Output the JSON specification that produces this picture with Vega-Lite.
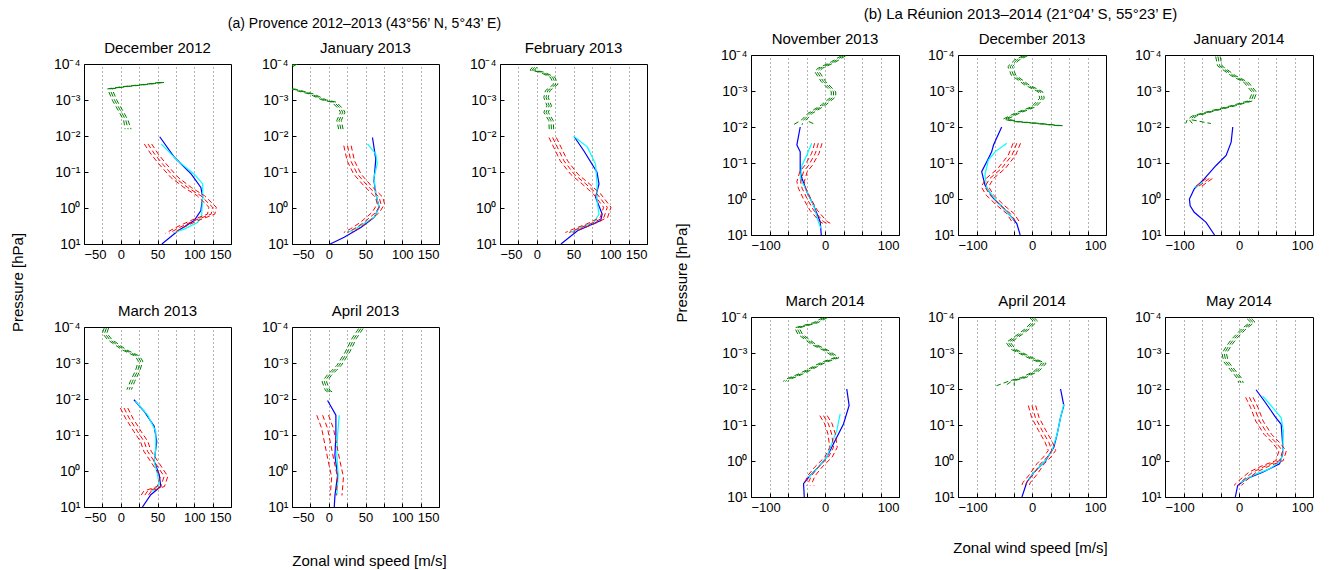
{
"$schema":"https://vega.github.io/schema/vega-lite/v6.json",
"background":"white",
"padding":{"left":10,"top":6,"right":5,"bottom":0},
"config":{
 "font":"Liberation Sans",
 "view":{"stroke":"#000","strokeWidth":1},
 "axis":{"labelFontSize":13,"labelColor":"#000","labelFont":"Liberation Sans","domain":false,"tickColor":"#000","tickSize":-4,"labelPadding":8,"gridColor":"#000","gridDash":[1,3],"gridOpacity":0.6},
 "axisY":{"grid":false,"labelFontSize":14},
 "axisX":{"grid":true},
 "title":{"fontSize":15,"fontWeight":"normal","color":"#000","font":"Liberation Sans","offset":1}
},
"datasets":{
"a1":[
{"s":"g","p":3.24e-4,"u":56,"lo":53,"hi":59},{"s":"g","p":3.63e-4,"u":37,"lo":34,"hi":40},{"s":"g","p":4.27e-4,"u":5,"lo":2,"hi":8},{"s":"g","p":4.9e-4,"u":-15,"lo":-18,"hi":-12},{"s":"g","p":1.05e-3,"u":-8,"lo":-11,"hi":-5},{"s":"g","p":2.19e-3,"u":1,"lo":-2,"hi":4},{"s":"g","p":3.72e-3,"u":7,"lo":4,"hi":10},{"s":"g","p":6.46e-3,"u":10,"lo":6,"hi":14},
{"s":"r","p":0.0166,"u":37,"lo":32,"hi":42},{"s":"r","p":0.0316,"u":46,"lo":41,"hi":51},{"s":"r","p":0.0603,"u":57,"lo":52,"hi":62},{"s":"r","p":0.141,"u":73,"lo":68,"hi":78},{"s":"r","p":0.269,"u":91,"lo":86,"hi":96},{"s":"r","p":0.457,"u":109,"lo":104,"hi":114},{"s":"r","p":0.955,"u":125,"lo":120,"hi":130},{"s":"r","p":1.48,"u":123,"lo":118,"hi":128},{"s":"r","p":2.24,"u":100,"lo":95,"hi":105},{"s":"r","p":3.47,"u":80,"lo":75,"hi":85},{"s":"r","p":5.01,"u":66,"lo":61,"hi":71},
{"s":"b","p":0.0105,"u":53},{"s":"b","p":0.0389,"u":73},{"s":"b","p":0.115,"u":96},{"s":"b","p":0.269,"u":109},{"s":"b","p":0.501,"u":111.5},{"s":"b","p":1.17,"u":109},{"s":"b","p":2.24,"u":100},{"s":"b","p":4.27,"u":78},{"s":"b","p":10,"u":56},
{"s":"c","p":0.0166,"u":55},{"s":"c","p":0.049,"u":77.6},{"s":"c","p":0.115,"u":100},{"s":"c","p":0.214,"u":111.5},{"s":"c","p":0.501,"u":111.5},{"s":"c","p":1.62,"u":110},{"s":"c","p":2.51,"u":105},{"s":"c","p":3.8,"u":87},{"s":"c","p":4.79,"u":73}
],
"a2":[
{"s":"g","p":1.0e-4,"u":-46,"lo":-49,"hi":-43},{"s":"g","p":2.0e-4,"u":-70,"lo":-73,"hi":-67},{"s":"g","p":4.9e-4,"u":-50,"lo":-53,"hi":-47},{"s":"g","p":6.76e-4,"u":-24,"lo":-27,"hi":-21},{"s":"g","p":1.0e-3,"u":-6,"lo":-9,"hi":-3},{"s":"g","p":1.15e-3,"u":7.5,"lo":4.5,"hi":10.5},{"s":"g","p":1.78e-3,"u":16.5,"lo":13.5,"hi":19.5},{"s":"g","p":2.19e-3,"u":19,"lo":16,"hi":22},{"s":"g","p":3.72e-3,"u":14,"lo":11,"hi":17},{"s":"g","p":6.46e-3,"u":16.5,"lo":13.5,"hi":19.5},
{"s":"r","p":0.0186,"u":25.5,"lo":20.5,"hi":30.5},{"s":"r","p":0.049,"u":30,"lo":25,"hi":35},{"s":"r","p":0.115,"u":39,"lo":34,"hi":44},{"s":"r","p":0.24,"u":52.7,"lo":47.7,"hi":57.7},{"s":"r","p":0.501,"u":68.5,"lo":63.5,"hi":73.5},{"s":"r","p":0.776,"u":71,"lo":66,"hi":76},{"s":"r","p":1.32,"u":64,"lo":59,"hi":69},{"s":"r","p":2.51,"u":48,"lo":43,"hi":53},{"s":"r","p":3.8,"u":34.6,"lo":29.6,"hi":39.6},{"s":"r","p":4.79,"u":25.5,"lo":20.5,"hi":30.5},
{"s":"b","p":0.011,"u":59.5},{"s":"b","p":0.0437,"u":64},{"s":"b","p":0.174,"u":61.5},{"s":"b","p":0.407,"u":64},{"s":"b","p":0.955,"u":68.5},{"s":"b","p":1.82,"u":61.8},{"s":"b","p":3.47,"u":43.7},{"s":"b","p":6.46,"u":21},{"s":"b","p":10,"u":2},
{"s":"c","p":0.0166,"u":52.7},{"s":"c","p":0.0316,"u":64},{"s":"c","p":0.0603,"u":66},{"s":"c","p":0.141,"u":61.5},{"s":"c","p":0.407,"u":64},{"s":"c","p":0.955,"u":68.5},{"s":"c","p":1.82,"u":61.8},{"s":"c","p":3.47,"u":39},{"s":"c","p":4.79,"u":25.5}
],
"a3":[
{"s":"g","p":1.23e-4,"u":-3,"lo":-6,"hi":0},{"s":"g","p":1.48e-4,"u":-6,"lo":-9,"hi":-3},{"s":"g","p":1.7e-4,"u":7.6,"lo":4.6,"hi":10.6},{"s":"g","p":2.34e-4,"u":21.6,"lo":18.6,"hi":24.6},{"s":"g","p":3.63e-4,"u":26,"lo":23,"hi":29},{"s":"g","p":5.5e-4,"u":14.9,"lo":11.9,"hi":17.9},{"s":"g","p":8.51e-4,"u":12.6,"lo":9.6,"hi":15.6},{"s":"g","p":1.45e-3,"u":17,"lo":14,"hi":20},{"s":"g","p":2.19e-3,"u":12.6,"lo":9.6,"hi":15.6},{"s":"g","p":3.72e-3,"u":19.4,"lo":16.4,"hi":22.4},{"s":"g","p":6.46e-3,"u":20,"lo":17,"hi":23},
{"s":"r","p":0.011,"u":21.6,"lo":16.6,"hi":26.6},{"s":"r","p":0.0204,"u":28,"lo":23,"hi":33},{"s":"r","p":0.049,"u":37,"lo":32,"hi":42},{"s":"r","p":0.115,"u":51,"lo":46,"hi":56},{"s":"r","p":0.214,"u":66.7,"lo":61.7,"hi":71.7},{"s":"r","p":0.407,"u":82,"lo":77,"hi":87},{"s":"r","p":0.955,"u":96,"lo":91,"hi":101},{"s":"r","p":1.82,"u":91.4,"lo":86.4,"hi":96.4},{"s":"r","p":2.75,"u":73.4,"lo":68.4,"hi":78.4},{"s":"r","p":3.8,"u":55.4,"lo":50.4,"hi":60.4},{"s":"r","p":4.79,"u":44,"lo":39,"hi":49},
{"s":"b","p":0.0105,"u":51},{"s":"b","p":0.0257,"u":64},{"s":"b","p":0.102,"u":82},{"s":"b","p":0.214,"u":84.7},{"s":"b","p":0.501,"u":80},{"s":"b","p":1.48,"u":89},{"s":"b","p":2.24,"u":87},{"s":"b","p":4.27,"u":55.4},{"s":"b","p":10,"u":33},
{"s":"c","p":0.01,"u":50},{"s":"c","p":0.0204,"u":69},{"s":"c","p":0.0603,"u":80},{"s":"c","p":0.214,"u":82},{"s":"c","p":0.631,"u":82},{"s":"c","p":1.48,"u":84.7},{"s":"c","p":2.51,"u":78},{"s":"c","p":3.8,"u":55.4},{"s":"c","p":4.79,"u":46}
],
"a4":[
{"s":"g","p":1.07e-4,"u":-19.5,"lo":-22.5,"hi":-16.5},{"s":"g","p":1.48e-4,"u":-22,"lo":-25,"hi":-19},{"s":"g","p":2.24e-4,"u":-15,"lo":-18,"hi":-12},{"s":"g","p":4.27e-4,"u":4.5,"lo":1.5,"hi":7.5},{"s":"g","p":6.46e-4,"u":22.7,"lo":19.7,"hi":25.7},{"s":"g","p":8.91e-4,"u":27,"lo":24,"hi":30},{"s":"g","p":1.7e-3,"u":22.7,"lo":19.7,"hi":25.7},{"s":"g","p":3.24e-3,"u":16,"lo":13,"hi":19},{"s":"g","p":5.5e-3,"u":11.4,"lo":8.4,"hi":14.4},
{"s":"r","p":0.0178,"u":4.5,"lo":-0.5,"hi":9.5},{"s":"r","p":0.0339,"u":11.4,"lo":6.4,"hi":16.4},{"s":"r","p":0.0794,"u":22.7,"lo":17.7,"hi":27.7},{"s":"r","p":0.151,"u":31.8,"lo":26.8,"hi":36.8},{"s":"r","p":0.282,"u":36.4,"lo":31.4,"hi":41.4},{"s":"r","p":0.537,"u":45.5,"lo":40.5,"hi":50.5},{"s":"r","p":1.41,"u":59,"lo":54,"hi":64},{"s":"r","p":2.69,"u":54.5,"lo":49.5,"hi":59.5},{"s":"r","p":3.63,"u":36.4,"lo":31.4,"hi":41.4},{"s":"r","p":5.01,"u":31.8,"lo":26.8,"hi":36.8},
{"s":"b","p":0.0105,"u":18},{"s":"b","p":0.0219,"u":31.8},{"s":"b","p":0.0575,"u":45.5},{"s":"b","p":0.151,"u":49},{"s":"b","p":0.537,"u":45.5},{"s":"b","p":1.26,"u":52.3},{"s":"b","p":2.69,"u":54.5},{"s":"b","p":4.57,"u":40.9},{"s":"b","p":10,"u":29.5},
{"s":"c","p":0.0115,"u":20},{"s":"c","p":0.0275,"u":36.4},{"s":"c","p":0.0794,"u":47.7},{"s":"c","p":0.229,"u":47.7},{"s":"c","p":0.537,"u":45.5},{"s":"c","p":1.26,"u":50},{"s":"c","p":2.4,"u":52.3},{"s":"c","p":3.63,"u":43}
],
"a5":[
{"s":"g","p":1.1e-4,"u":43.7,"lo":40.7,"hi":46.7},{"s":"g","p":2.09e-4,"u":34.6,"lo":31.6,"hi":37.6},{"s":"g","p":4.9e-4,"u":25.6,"lo":22.6,"hi":28.6},{"s":"g","p":1.15e-3,"u":14.3,"lo":11.3,"hi":17.3},{"s":"g","p":2.19e-3,"u":0.7,"lo":-2.3,"hi":3.7},{"s":"g","p":3.31e-3,"u":-6,"lo":-9,"hi":-3},{"s":"g","p":5.75e-3,"u":-1.6,"lo":-4.6,"hi":1.4},{"s":"g","p":7.08e-3,"u":5,"lo":2,"hi":8},
{"s":"r","p":0.0282,"u":-8.3,"lo":-16.3,"hi":-0.3},{"s":"r","p":0.0661,"u":-1.6,"lo":-9.6,"hi":6.4},{"s":"r","p":0.195,"u":3,"lo":-5,"hi":11},{"s":"r","p":0.562,"u":7.5,"lo":-0.5,"hi":15.5},{"s":"r","p":1.48,"u":12,"lo":4,"hi":20},{"s":"r","p":4.79,"u":10,"lo":2,"hi":18},
{"s":"b","p":0.011,"u":-1.6},{"s":"b","p":0.0282,"u":9.7},{"s":"b","p":0.102,"u":9.7},{"s":"b","p":0.372,"u":8.4},{"s":"b","p":1.32,"u":12},{"s":"b","p":4.79,"u":8.4},{"s":"b","p":10,"u":7.5},
{"s":"c","p":0.0282,"u":14.3},{"s":"c","p":0.102,"u":12},{"s":"c","p":0.372,"u":11},{"s":"c","p":1.32,"u":12.9},{"s":"c","p":4.79,"u":11}
],
"b1":[
{"s":"g","p":1.05e-4,"u":25,"lo":22,"hi":28},{"s":"g","p":1.55e-4,"u":11.5,"lo":8.5,"hi":14.5},{"s":"g","p":2.34e-4,"u":-6.5,"lo":-9.5,"hi":-3.5},{"s":"g","p":2.88e-4,"u":-11,"lo":-14,"hi":-8},{"s":"g","p":5.5e-4,"u":-2,"lo":-5,"hi":1},{"s":"g","p":1.05e-3,"u":11.5,"lo":8.5,"hi":14.5},{"s":"g","p":1.45e-3,"u":11.5,"lo":8.5,"hi":14.5},{"s":"g","p":2.45e-3,"u":-2,"lo":-5,"hi":1},{"s":"g","p":4.17e-3,"u":-20,"lo":-23,"hi":-17},{"s":"g","p":6.46e-3,"u":-29,"lo":-32,"hi":-26},{"s":"g","p":8.71e-3,"u":-31,"lo":-43,"hi":-12},
{"s":"r","p":0.0282,"u":-9,"lo":-14,"hi":-4},{"s":"r","p":0.0537,"u":-13,"lo":-18,"hi":-8},{"s":"r","p":0.115,"u":-22,"lo":-27,"hi":-17},{"s":"r","p":0.174,"u":-29,"lo":-34,"hi":-24},{"s":"r","p":0.331,"u":-33,"lo":-38,"hi":-28},{"s":"r","p":0.501,"u":-31,"lo":-36,"hi":-26},{"s":"r","p":0.955,"u":-24.5,"lo":-29.5,"hi":-19.5},{"s":"r","p":2.04,"u":-15.5,"lo":-20.5,"hi":-10.5},{"s":"r","p":4.27,"u":-2,"lo":-7,"hi":3},{"s":"r","p":5.01,"u":4.7,"lo":-0.3,"hi":9.7},
{"s":"b","p":0.01,"u":-33.5},{"s":"b","p":0.0316,"u":-38},{"s":"b","p":0.049,"u":-33.5},{"s":"b","p":0.174,"u":-33.5},{"s":"b","p":0.269,"u":-31},{"s":"b","p":0.631,"u":-24.5},{"s":"b","p":1.48,"u":-15.5},{"s":"b","p":4.27,"u":-6.5},{"s":"b","p":10,"u":-5},
{"s":"c","p":0.0282,"u":-18},{"s":"c","p":0.0603,"u":-24.5},{"s":"c","p":0.115,"u":-31},{"s":"c","p":0.269,"u":-33.5},{"s":"c","p":0.501,"u":-26.5},{"s":"c","p":1.48,"u":-15.5},{"s":"c","p":4.27,"u":-9},{"s":"c","p":6.46,"u":-5.6}
],
"b2":[
{"s":"g","p":1.05e-4,"u":-9,"lo":-12,"hi":-6},{"s":"g","p":1.38e-4,"u":-20.5,"lo":-23.5,"hi":-17.5},{"s":"g","p":2.09e-4,"u":-29.5,"lo":-32.5,"hi":-26.5},{"s":"g","p":3.63e-4,"u":-25,"lo":-28,"hi":-22},{"s":"g","p":6.76e-4,"u":-7,"lo":-10,"hi":-4},{"s":"g","p":1.05e-3,"u":11.4,"lo":8.4,"hi":14.4},{"s":"g","p":1.58e-3,"u":13.6,"lo":10.6,"hi":16.6},{"s":"g","p":2.75e-3,"u":2.3,"lo":-0.7,"hi":5.3},{"s":"g","p":4.17e-3,"u":-20.5,"lo":-23.5,"hi":-17.5},{"s":"g","p":6.03e-3,"u":-36,"lo":-39,"hi":-33},{"s":"g","p":7.08e-3,"u":-20.5,"lo":-23.5,"hi":-17.5},{"s":"g","p":7.94e-3,"u":7,"lo":4,"hi":10},{"s":"g","p":9.33e-3,"u":41,"lo":38,"hi":44},
{"s":"r","p":0.0282,"u":-20.5,"lo":-25.5,"hi":-15.5},{"s":"r","p":0.0603,"u":-27,"lo":-32,"hi":-22},{"s":"r","p":0.141,"u":-41,"lo":-46,"hi":-36},{"s":"r","p":0.269,"u":-57,"lo":-62,"hi":-52},{"s":"r","p":0.457,"u":-63.6,"lo":-68.6,"hi":-58.6},{"s":"r","p":0.776,"u":-57,"lo":-62,"hi":-52},{"s":"r","p":1.48,"u":-43,"lo":-48,"hi":-38},{"s":"r","p":2.51,"u":-29.5,"lo":-34.5,"hi":-24.5},{"s":"r","p":4.79,"u":-20.5,"lo":-25.5,"hi":-15.5},
{"s":"b","p":0.01,"u":-41},{"s":"b","p":0.0316,"u":-52},{"s":"b","p":0.049,"u":-54.5},{"s":"b","p":0.0912,"u":-61},{"s":"b","p":0.174,"u":-68},{"s":"b","p":0.407,"u":-63.6},{"s":"b","p":0.955,"u":-52},{"s":"b","p":2.24,"u":-34},{"s":"b","p":4.79,"u":-20.5},{"s":"b","p":10,"u":-16},
{"s":"c","p":0.0282,"u":-34},{"s":"c","p":0.049,"u":-50},{"s":"c","p":0.0832,"u":-59},{"s":"c","p":0.214,"u":-63.6},{"s":"c","p":0.501,"u":-61},{"s":"c","p":1.17,"u":-47.7},{"s":"c","p":2.24,"u":-34},{"s":"c","p":3.8,"u":-25}
],
"b3":[
{"s":"g","p":1.1e-4,"u":-28.5,"lo":-31.5,"hi":-25.5},{"s":"g","p":2.0e-4,"u":-26,"lo":-29,"hi":-23},{"s":"g","p":3.72e-4,"u":-8,"lo":-11,"hi":-5},{"s":"g","p":5.75e-4,"u":9.7,"lo":6.7,"hi":12.7},{"s":"g","p":1.1e-3,"u":21,"lo":18,"hi":24},{"s":"g","p":1.86e-3,"u":16.5,"lo":13.5,"hi":19.5},{"s":"g","p":2.57e-3,"u":-8,"lo":-11,"hi":-5},{"s":"g","p":3.55e-3,"u":-35,"lo":-38,"hi":-32},{"s":"g","p":4.9e-3,"u":-60,"lo":-63,"hi":-57},{"s":"g","p":6.31e-3,"u":-67,"lo":-70,"hi":-64},{"s":"g","p":8.0e-3,"u":-63,"lo":-72,"hi":-38},
{"s":"r","p":0.269,"u":-40,"lo":-44,"hi":-36},{"s":"r","p":0.468,"u":-56,"lo":-60,"hi":-52},
{"s":"b","p":0.01,"u":-8.4},{"s":"b","p":0.0263,"u":-10.6},{"s":"b","p":0.0617,"u":-17.4},{"s":"b","p":0.117,"u":-31},{"s":"b","p":0.275,"u":-47},{"s":"b","p":0.525,"u":-60.5},{"s":"b","p":1.0,"u":-67},{"s":"b","p":1.55,"u":-66},{"s":"b","p":2.34,"u":-60.5},{"s":"b","p":4.47,"u":-44.5},{"s":"b","p":10,"u":-33},
{"s":"c","p":0.339,"u":-49},{"s":"c","p":0.468,"u":-60}
],
"b4":[
{"s":"g","p":1.05e-4,"u":0,"lo":-3,"hi":3},{"s":"g","p":1.45e-4,"u":-13,"lo":-16,"hi":-10},{"s":"g","p":2.0e-4,"u":-38,"lo":-41,"hi":-35},{"s":"g","p":3.02e-4,"u":-33.5,"lo":-36.5,"hi":-30.5},{"s":"g","p":5.75e-4,"u":-15.5,"lo":-18.5,"hi":-12.5},{"s":"g","p":8.71e-4,"u":2.5,"lo":-0.5,"hi":5.5},{"s":"g","p":1.35e-3,"u":16,"lo":13,"hi":19},{"s":"g","p":1.82e-3,"u":-2,"lo":-5,"hi":1},{"s":"g","p":2.82e-3,"u":-20,"lo":-23,"hi":-17},{"s":"g","p":3.89e-3,"u":-33.5,"lo":-36.5,"hi":-30.5},{"s":"g","p":5.25e-3,"u":-49,"lo":-52,"hi":-46},{"s":"g","p":6.17e-3,"u":-53.5,"lo":-56.5,"hi":-50.5},
{"s":"r","p":0.055,"u":-2,"lo":-7,"hi":3},{"s":"r","p":0.0933,"u":4.7,"lo":-0.3,"hi":9.7},{"s":"r","p":0.178,"u":9,"lo":4,"hi":14},{"s":"r","p":0.417,"u":11.5,"lo":6.5,"hi":16.5},{"s":"r","p":0.776,"u":4.7,"lo":-0.3,"hi":9.7},{"s":"r","p":1.48,"u":-9,"lo":-14,"hi":-4},{"s":"r","p":2.51,"u":-18,"lo":-23,"hi":-13},{"s":"r","p":3.8,"u":-22,"lo":-27,"hi":-17},{"s":"r","p":4.79,"u":-20,"lo":-25,"hi":-15},
{"s":"b","p":0.01,"u":29.4},{"s":"b","p":0.0288,"u":32.6},{"s":"b","p":0.0933,"u":25},{"s":"b","p":0.331,"u":11.5},{"s":"b","p":0.776,"u":2.5},{"s":"b","p":1.48,"u":-9},{"s":"b","p":2.51,"u":-20},{"s":"b","p":4.27,"u":-29},{"s":"b","p":10,"u":-28},
{"s":"c","p":0.049,"u":20.5},{"s":"c","p":0.141,"u":16},{"s":"c","p":0.331,"u":9},{"s":"c","p":0.776,"u":2.5},{"s":"c","p":1.66,"u":-11},{"s":"c","p":2.82,"u":-22}
],
"b5":[
{"s":"g","p":1.05e-4,"u":0,"lo":-3,"hi":3},{"s":"g","p":1.29e-4,"u":4.5,"lo":1.5,"hi":7.5},{"s":"g","p":2.19e-4,"u":-7,"lo":-10,"hi":-4},{"s":"g","p":3.02e-4,"u":-16,"lo":-19,"hi":-13},{"s":"g","p":5.13e-4,"u":-32,"lo":-35,"hi":-29},{"s":"g","p":7.94e-4,"u":-25,"lo":-28,"hi":-22},{"s":"g","p":1.35e-3,"u":-2.3,"lo":-5.3,"hi":0.7},{"s":"g","p":1.95e-3,"u":16,"lo":13,"hi":19},{"s":"g","p":3.09e-3,"u":7,"lo":4,"hi":10},{"s":"g","p":4.79e-3,"u":-11,"lo":-14,"hi":-8},{"s":"g","p":5.89e-3,"u":-27,"lo":-30,"hi":-24},{"s":"g","p":8.13e-3,"u":-36,"lo":-48,"hi":-24},
{"s":"r","p":0.0288,"u":0,"lo":-5,"hi":5},{"s":"r","p":0.0617,"u":4.5,"lo":-0.5,"hi":9.5},{"s":"r","p":0.141,"u":13.6,"lo":8.6,"hi":18.6},{"s":"r","p":0.302,"u":22.7,"lo":17.7,"hi":27.7},{"s":"r","p":0.513,"u":27,"lo":22,"hi":32},{"s":"r","p":0.776,"u":20.5,"lo":15.5,"hi":25.5},{"s":"r","p":1.2,"u":11.4,"lo":6.4,"hi":16.4},{"s":"r","p":2.29,"u":2.3,"lo":-2.7,"hi":7.3},{"s":"r","p":3.89,"u":-7,"lo":-12,"hi":-2},{"s":"r","p":4.79,"u":-9,"lo":-14,"hi":-4},
{"s":"b","p":0.01,"u":38.6},{"s":"b","p":0.0288,"u":43},{"s":"b","p":0.0617,"u":38.6},{"s":"b","p":0.178,"u":34},{"s":"b","p":0.417,"u":29.5},{"s":"b","p":1.0,"u":18},{"s":"b","p":2.09,"u":2.3},{"s":"b","p":3.89,"u":-7},{"s":"b","p":10,"u":-13.6},
{"s":"c","p":0.0263,"u":43},{"s":"c","p":0.0617,"u":38.6},{"s":"c","p":0.178,"u":34},{"s":"c","p":0.513,"u":27},{"s":"c","p":1.1,"u":16},{"s":"c","p":2.09,"u":2.3},{"s":"c","p":3.47,"u":-4.5}
],
"b6":[
{"s":"g","p":1.12e-4,"u":14,"lo":11,"hi":17},{"s":"g","p":1.38e-4,"u":18.5,"lo":15.5,"hi":21.5},{"s":"g","p":2.09e-4,"u":7,"lo":4,"hi":10},{"s":"g","p":3.98e-4,"u":-6.3,"lo":-9.3,"hi":-3.3},{"s":"g","p":6.03e-4,"u":-13,"lo":-16,"hi":-10},{"s":"g","p":1.02e-3,"u":-20,"lo":-23,"hi":-17},{"s":"g","p":1.74e-3,"u":-17.6,"lo":-20.6,"hi":-14.6},{"s":"g","p":2.95e-3,"u":-8.6,"lo":-11.6,"hi":-5.6},{"s":"g","p":5.01e-3,"u":0.5,"lo":-2.5,"hi":3.5},{"s":"g","p":6.76e-3,"u":2.7,"lo":-0.3,"hi":5.7},
{"s":"r","p":0.017,"u":14,"lo":9,"hi":19},{"s":"r","p":0.0331,"u":20.8,"lo":15.8,"hi":25.8},{"s":"r","p":0.0776,"u":27.6,"lo":22.6,"hi":32.6},{"s":"r","p":0.182,"u":39,"lo":34,"hi":44},{"s":"r","p":0.309,"u":50,"lo":45,"hi":55},{"s":"r","p":0.525,"u":59,"lo":54,"hi":64},{"s":"r","p":0.977,"u":54.8,"lo":49.8,"hi":59.8},{"s":"r","p":1.35,"u":36.6,"lo":31.6,"hi":41.6},{"s":"r","p":2.04,"u":18.5,"lo":13.5,"hi":23.5},{"s":"r","p":3.47,"u":5,"lo":0,"hi":10},{"s":"r","p":4.79,"u":-1.8,"lo":-6.8,"hi":3.2},
{"s":"b","p":0.0105,"u":23},{"s":"b","p":0.0219,"u":34.4},{"s":"b","p":0.0631,"u":50},{"s":"b","p":0.0955,"u":57},{"s":"b","p":0.339,"u":59},{"s":"b","p":0.646,"u":59},{"s":"b","p":1.2,"u":54.8},{"s":"b","p":2.04,"u":32},{"s":"b","p":3.16,"u":9.5},{"s":"b","p":4.79,"u":-1.8},{"s":"b","p":10,"u":-5},
{"s":"c","p":0.0158,"u":32},{"s":"c","p":0.0331,"u":45.7},{"s":"c","p":0.0631,"u":57},{"s":"c","p":0.148,"u":60},{"s":"c","p":0.525,"u":59},{"s":"c","p":0.977,"u":57},{"s":"c","p":1.66,"u":41},{"s":"c","p":2.51,"u":18.5},{"s":"c","p":3.89,"u":2.7}
]
},
"hconcat":[
{"spacing":-43,"vconcat":[
{"width":1,"height":1,"data":{"values":[{"v":0}]},"mark":{"type":"point","opacity":0},"view":{"stroke":null}},
{"title":{"text":"(a) Provence 2012–2013 (43°56’ N, 5°43’ E)","fontSize":14,"offset":10,"anchor":"middle","dx":35},
 "vconcat":[{
  "title":{"text":"Zonal wind speed [m/s]","orient":"bottom","fontSize":15,"offset":29,"anchor":"middle","dx":40},
  "vconcat":[{
   "title":{"text":"Pressure [hPa]","orient":"left","fontSize":15,"offset":27,"anchor":"middle"},
   "spacing":41,
   "vconcat":[
    {"spacing":61,"bounds":"flush","hconcat":[
     {"width":147,"height":180,"title":"December 2012","data":{"name":"a1"},
      "encoding":{"y":{"field":"p","type":"quantitative","scale":{"type":"log","domain":[0.0001,10],"reverse":true},"axis":{"values":[0.0001,0.001,0.01,0.1,1,10],"labelExpr":"datum.value<0.0005?'10⁻⁴':datum.value<0.005?'10⁻³':datum.value<0.05?'10⁻²':datum.value<0.5?'10⁻¹':datum.value<5?'10⁰':'10¹'","title":null}},
       "x":{"field":"u","type":"quantitative","scale":{"domain":[-50,150],"nice":false,"zero":false},"axis":{"values":[-50,-25,0,25,50,75,100,125,150],"labelExpr":"datum.value%50==0?datum.label:''","title":null}},
       "color":{"field":"s","type":"nominal","scale":{"domain":["g","r","b","c"],"range":["#008000","#ff0000","#0000ff","#00ffff"]},"legend":null},
       "order":{"field":"p","type":"quantitative"}},
      "layer":[
       {"transform":[{"filter":"datum.s=='b'||datum.s=='c'"}],"mark":{"type":"line","clip":true,"strokeWidth":1.2}},
       {"transform":[{"filter":"datum.s=='g'||datum.s=='r'"}],"mark":{"type":"line","clip":true,"strokeWidth":1,"strokeDash":[5,3]}},
       {"transform":[{"filter":"datum.s=='g'||datum.s=='r'"}],"mark":{"type":"line","clip":true,"strokeWidth":1,"strokeDash":[5,3]},"encoding":{"x":{"field":"lo","type":"quantitative","scale":{"domain":[-50,150],"nice":false,"zero":false},"axis":{"values":[-50,-25,0,25,50,75,100,125,150],"labelExpr":"datum.value%50==0?datum.label:''","title":null}}}},
       {"transform":[{"filter":"datum.s=='g'||datum.s=='r'"}],"mark":{"type":"line","clip":true,"strokeWidth":1,"strokeDash":[5,3]},"encoding":{"x":{"field":"hi","type":"quantitative","scale":{"domain":[-50,150],"nice":false,"zero":false},"axis":{"values":[-50,-25,0,25,50,75,100,125,150],"labelExpr":"datum.value%50==0?datum.label:''","title":null}}}}
      ]},
     {"width":147,"height":180,"title":"January 2013","data":{"name":"a2"},
      "encoding":{"y":{"field":"p","type":"quantitative","scale":{"type":"log","domain":[0.0001,10],"reverse":true},"axis":{"values":[0.0001,0.001,0.01,0.1,1,10],"labelExpr":"datum.value<0.0005?'10⁻⁴':datum.value<0.005?'10⁻³':datum.value<0.05?'10⁻²':datum.value<0.5?'10⁻¹':datum.value<5?'10⁰':'10¹'","title":null}},
       "x":{"field":"u","type":"quantitative","scale":{"domain":[-50,150],"nice":false,"zero":false},"axis":{"values":[-50,-25,0,25,50,75,100,125,150],"labelExpr":"datum.value%50==0?datum.label:''","title":null}},
       "color":{"field":"s","type":"nominal","scale":{"domain":["g","r","b","c"],"range":["#008000","#ff0000","#0000ff","#00ffff"]},"legend":null},
       "order":{"field":"p","type":"quantitative"}},
      "layer":[
       {"transform":[{"filter":"datum.s=='b'||datum.s=='c'"}],"mark":{"type":"line","clip":true,"strokeWidth":1.2}},
       {"transform":[{"filter":"datum.s=='g'||datum.s=='r'"}],"mark":{"type":"line","clip":true,"strokeWidth":1,"strokeDash":[5,3]}},
       {"transform":[{"filter":"datum.s=='g'||datum.s=='r'"}],"mark":{"type":"line","clip":true,"strokeWidth":1,"strokeDash":[5,3]},"encoding":{"x":{"field":"lo","type":"quantitative","scale":{"domain":[-50,150],"nice":false,"zero":false},"axis":{"values":[-50,-25,0,25,50,75,100,125,150],"labelExpr":"datum.value%50==0?datum.label:''","title":null}}}},
       {"transform":[{"filter":"datum.s=='g'||datum.s=='r'"}],"mark":{"type":"line","clip":true,"strokeWidth":1,"strokeDash":[5,3]},"encoding":{"x":{"field":"hi","type":"quantitative","scale":{"domain":[-50,150],"nice":false,"zero":false},"axis":{"values":[-50,-25,0,25,50,75,100,125,150],"labelExpr":"datum.value%50==0?datum.label:''","title":null}}}}
      ]},
     {"width":147,"height":180,"title":"February 2013","data":{"name":"a3"},
      "encoding":{"y":{"field":"p","type":"quantitative","scale":{"type":"log","domain":[0.0001,10],"reverse":true},"axis":{"values":[0.0001,0.001,0.01,0.1,1,10],"labelExpr":"datum.value<0.0005?'10⁻⁴':datum.value<0.005?'10⁻³':datum.value<0.05?'10⁻²':datum.value<0.5?'10⁻¹':datum.value<5?'10⁰':'10¹'","title":null}},
       "x":{"field":"u","type":"quantitative","scale":{"domain":[-50,150],"nice":false,"zero":false},"axis":{"values":[-50,-25,0,25,50,75,100,125,150],"labelExpr":"datum.value%50==0?datum.label:''","title":null}},
       "color":{"field":"s","type":"nominal","scale":{"domain":["g","r","b","c"],"range":["#008000","#ff0000","#0000ff","#00ffff"]},"legend":null},
       "order":{"field":"p","type":"quantitative"}},
      "layer":[
       {"transform":[{"filter":"datum.s=='b'||datum.s=='c'"}],"mark":{"type":"line","clip":true,"strokeWidth":1.2}},
       {"transform":[{"filter":"datum.s=='g'||datum.s=='r'"}],"mark":{"type":"line","clip":true,"strokeWidth":1,"strokeDash":[5,3]}},
       {"transform":[{"filter":"datum.s=='g'||datum.s=='r'"}],"mark":{"type":"line","clip":true,"strokeWidth":1,"strokeDash":[5,3]},"encoding":{"x":{"field":"lo","type":"quantitative","scale":{"domain":[-50,150],"nice":false,"zero":false},"axis":{"values":[-50,-25,0,25,50,75,100,125,150],"labelExpr":"datum.value%50==0?datum.label:''","title":null}}}},
       {"transform":[{"filter":"datum.s=='g'||datum.s=='r'"}],"mark":{"type":"line","clip":true,"strokeWidth":1,"strokeDash":[5,3]},"encoding":{"x":{"field":"hi","type":"quantitative","scale":{"domain":[-50,150],"nice":false,"zero":false},"axis":{"values":[-50,-25,0,25,50,75,100,125,150],"labelExpr":"datum.value%50==0?datum.label:''","title":null}}}}
      ]}
    ]},
    {"spacing":61,"bounds":"flush","hconcat":[
     {"width":147,"height":180,"title":"March 2013","data":{"name":"a4"},
      "encoding":{"y":{"field":"p","type":"quantitative","scale":{"type":"log","domain":[0.0001,10],"reverse":true},"axis":{"values":[0.0001,0.001,0.01,0.1,1,10],"labelExpr":"datum.value<0.0005?'10⁻⁴':datum.value<0.005?'10⁻³':datum.value<0.05?'10⁻²':datum.value<0.5?'10⁻¹':datum.value<5?'10⁰':'10¹'","title":null}},
       "x":{"field":"u","type":"quantitative","scale":{"domain":[-50,150],"nice":false,"zero":false},"axis":{"values":[-50,-25,0,25,50,75,100,125,150],"labelExpr":"datum.value%50==0?datum.label:''","title":null}},
       "color":{"field":"s","type":"nominal","scale":{"domain":["g","r","b","c"],"range":["#008000","#ff0000","#0000ff","#00ffff"]},"legend":null},
       "order":{"field":"p","type":"quantitative"}},
      "layer":[
       {"transform":[{"filter":"datum.s=='b'||datum.s=='c'"}],"mark":{"type":"line","clip":true,"strokeWidth":1.2}},
       {"transform":[{"filter":"datum.s=='g'||datum.s=='r'"}],"mark":{"type":"line","clip":true,"strokeWidth":1,"strokeDash":[5,3]}},
       {"transform":[{"filter":"datum.s=='g'||datum.s=='r'"}],"mark":{"type":"line","clip":true,"strokeWidth":1,"strokeDash":[5,3]},"encoding":{"x":{"field":"lo","type":"quantitative","scale":{"domain":[-50,150],"nice":false,"zero":false},"axis":{"values":[-50,-25,0,25,50,75,100,125,150],"labelExpr":"datum.value%50==0?datum.label:''","title":null}}}},
       {"transform":[{"filter":"datum.s=='g'||datum.s=='r'"}],"mark":{"type":"line","clip":true,"strokeWidth":1,"strokeDash":[5,3]},"encoding":{"x":{"field":"hi","type":"quantitative","scale":{"domain":[-50,150],"nice":false,"zero":false},"axis":{"values":[-50,-25,0,25,50,75,100,125,150],"labelExpr":"datum.value%50==0?datum.label:''","title":null}}}}
      ]},
     {"width":147,"height":180,"title":"April 2013","data":{"name":"a5"},
      "encoding":{"y":{"field":"p","type":"quantitative","scale":{"type":"log","domain":[0.0001,10],"reverse":true},"axis":{"values":[0.0001,0.001,0.01,0.1,1,10],"labelExpr":"datum.value<0.0005?'10⁻⁴':datum.value<0.005?'10⁻³':datum.value<0.05?'10⁻²':datum.value<0.5?'10⁻¹':datum.value<5?'10⁰':'10¹'","title":null}},
       "x":{"field":"u","type":"quantitative","scale":{"domain":[-50,150],"nice":false,"zero":false},"axis":{"values":[-50,-25,0,25,50,75,100,125,150],"labelExpr":"datum.value%50==0?datum.label:''","title":null}},
       "color":{"field":"s","type":"nominal","scale":{"domain":["g","r","b","c"],"range":["#008000","#ff0000","#0000ff","#00ffff"]},"legend":null},
       "order":{"field":"p","type":"quantitative"}},
      "layer":[
       {"transform":[{"filter":"datum.s=='b'||datum.s=='c'"}],"mark":{"type":"line","clip":true,"strokeWidth":1.2}},
       {"transform":[{"filter":"datum.s=='g'||datum.s=='r'"}],"mark":{"type":"line","clip":true,"strokeWidth":1,"strokeDash":[5,3]}},
       {"transform":[{"filter":"datum.s=='g'||datum.s=='r'"}],"mark":{"type":"line","clip":true,"strokeWidth":1,"strokeDash":[5,3]},"encoding":{"x":{"field":"lo","type":"quantitative","scale":{"domain":[-50,150],"nice":false,"zero":false},"axis":{"values":[-50,-25,0,25,50,75,100,125,150],"labelExpr":"datum.value%50==0?datum.label:''","title":null}}}},
       {"transform":[{"filter":"datum.s=='g'||datum.s=='r'"}],"mark":{"type":"line","clip":true,"strokeWidth":1,"strokeDash":[5,3]},"encoding":{"x":{"field":"hi","type":"quantitative","scale":{"domain":[-50,150],"nice":false,"zero":false},"axis":{"values":[-50,-25,0,25,50,75,100,125,150],"labelExpr":"datum.value%50==0?datum.label:''","title":null}}}}
      ]}
    ]}
   ]
  }]
 }]
}]},
{"vconcat":[
{"title":{"text":"(b) La Réunion 2013–2014 (21°04’ S, 55°23’ E)","fontSize":15,"offset":10,"anchor":"middle","dx":26},
 "vconcat":[{
  "title":{"text":"Zonal wind speed [m/s]","orient":"bottom","fontSize":15,"offset":26,"anchor":"middle","dx":36},
  "vconcat":[{
   "title":{"text":"Pressure [hPa]","orient":"left","fontSize":15,"offset":30,"anchor":"middle"},
   "spacing":40,
   "vconcat":[
    {"spacing":59,"bounds":"flush","hconcat":[
     {"width":148,"height":180,"title":"November 2013","data":{"name":"b1"},
      "encoding":{"y":{"field":"p","type":"quantitative","scale":{"type":"log","domain":[0.0001,10],"reverse":true},"axis":{"values":[0.0001,0.001,0.01,0.1,1,10],"labelExpr":"datum.value<0.0005?'10⁻⁴':datum.value<0.005?'10⁻³':datum.value<0.05?'10⁻²':datum.value<0.5?'10⁻¹':datum.value<5?'10⁰':'10¹'","title":null}},
       "x":{"field":"u","type":"quantitative","scale":{"domain":[-100,100],"nice":false,"zero":false},"axis":{"values":[-100,-75,-50,-25,0,25,50,75,100],"labelExpr":"datum.value%50==0?datum.label:''","title":null}},
       "color":{"field":"s","type":"nominal","scale":{"domain":["g","r","b","c"],"range":["#008000","#ff0000","#0000ff","#00ffff"]},"legend":null},
       "order":{"field":"p","type":"quantitative"}},
      "layer":[
       {"transform":[{"filter":"datum.s=='b'||datum.s=='c'"}],"mark":{"type":"line","clip":true,"strokeWidth":1.2}},
       {"transform":[{"filter":"datum.s=='g'||datum.s=='r'"}],"mark":{"type":"line","clip":true,"strokeWidth":1,"strokeDash":[5,3]}},
       {"transform":[{"filter":"datum.s=='g'||datum.s=='r'"}],"mark":{"type":"line","clip":true,"strokeWidth":1,"strokeDash":[5,3]},"encoding":{"x":{"field":"lo","type":"quantitative","scale":{"domain":[-100,100],"nice":false,"zero":false},"axis":{"values":[-100,-75,-50,-25,0,25,50,75,100],"labelExpr":"datum.value%50==0?datum.label:''","title":null}}}},
       {"transform":[{"filter":"datum.s=='g'||datum.s=='r'"}],"mark":{"type":"line","clip":true,"strokeWidth":1,"strokeDash":[5,3]},"encoding":{"x":{"field":"hi","type":"quantitative","scale":{"domain":[-100,100],"nice":false,"zero":false},"axis":{"values":[-100,-75,-50,-25,0,25,50,75,100],"labelExpr":"datum.value%50==0?datum.label:''","title":null}}}}
      ]},
     {"width":148,"height":180,"title":"December 2013","data":{"name":"b2"},
      "encoding":{"y":{"field":"p","type":"quantitative","scale":{"type":"log","domain":[0.0001,10],"reverse":true},"axis":{"values":[0.0001,0.001,0.01,0.1,1,10],"labelExpr":"datum.value<0.0005?'10⁻⁴':datum.value<0.005?'10⁻³':datum.value<0.05?'10⁻²':datum.value<0.5?'10⁻¹':datum.value<5?'10⁰':'10¹'","title":null}},
       "x":{"field":"u","type":"quantitative","scale":{"domain":[-100,100],"nice":false,"zero":false},"axis":{"values":[-100,-75,-50,-25,0,25,50,75,100],"labelExpr":"datum.value%50==0?datum.label:''","title":null}},
       "color":{"field":"s","type":"nominal","scale":{"domain":["g","r","b","c"],"range":["#008000","#ff0000","#0000ff","#00ffff"]},"legend":null},
       "order":{"field":"p","type":"quantitative"}},
      "layer":[
       {"transform":[{"filter":"datum.s=='b'||datum.s=='c'"}],"mark":{"type":"line","clip":true,"strokeWidth":1.2}},
       {"transform":[{"filter":"datum.s=='g'||datum.s=='r'"}],"mark":{"type":"line","clip":true,"strokeWidth":1,"strokeDash":[5,3]}},
       {"transform":[{"filter":"datum.s=='g'||datum.s=='r'"}],"mark":{"type":"line","clip":true,"strokeWidth":1,"strokeDash":[5,3]},"encoding":{"x":{"field":"lo","type":"quantitative","scale":{"domain":[-100,100],"nice":false,"zero":false},"axis":{"values":[-100,-75,-50,-25,0,25,50,75,100],"labelExpr":"datum.value%50==0?datum.label:''","title":null}}}},
       {"transform":[{"filter":"datum.s=='g'||datum.s=='r'"}],"mark":{"type":"line","clip":true,"strokeWidth":1,"strokeDash":[5,3]},"encoding":{"x":{"field":"hi","type":"quantitative","scale":{"domain":[-100,100],"nice":false,"zero":false},"axis":{"values":[-100,-75,-50,-25,0,25,50,75,100],"labelExpr":"datum.value%50==0?datum.label:''","title":null}}}}
      ]},
     {"width":148,"height":180,"title":"January 2014","data":{"name":"b3"},
      "encoding":{"y":{"field":"p","type":"quantitative","scale":{"type":"log","domain":[0.0001,10],"reverse":true},"axis":{"values":[0.0001,0.001,0.01,0.1,1,10],"labelExpr":"datum.value<0.0005?'10⁻⁴':datum.value<0.005?'10⁻³':datum.value<0.05?'10⁻²':datum.value<0.5?'10⁻¹':datum.value<5?'10⁰':'10¹'","title":null}},
       "x":{"field":"u","type":"quantitative","scale":{"domain":[-100,100],"nice":false,"zero":false},"axis":{"values":[-100,-75,-50,-25,0,25,50,75,100],"labelExpr":"datum.value%50==0?datum.label:''","title":null}},
       "color":{"field":"s","type":"nominal","scale":{"domain":["g","r","b","c"],"range":["#008000","#ff0000","#0000ff","#00ffff"]},"legend":null},
       "order":{"field":"p","type":"quantitative"}},
      "layer":[
       {"transform":[{"filter":"datum.s=='b'||datum.s=='c'"}],"mark":{"type":"line","clip":true,"strokeWidth":1.2}},
       {"transform":[{"filter":"datum.s=='g'||datum.s=='r'"}],"mark":{"type":"line","clip":true,"strokeWidth":1,"strokeDash":[5,3]}},
       {"transform":[{"filter":"datum.s=='g'||datum.s=='r'"}],"mark":{"type":"line","clip":true,"strokeWidth":1,"strokeDash":[5,3]},"encoding":{"x":{"field":"lo","type":"quantitative","scale":{"domain":[-100,100],"nice":false,"zero":false},"axis":{"values":[-100,-75,-50,-25,0,25,50,75,100],"labelExpr":"datum.value%50==0?datum.label:''","title":null}}}},
       {"transform":[{"filter":"datum.s=='g'||datum.s=='r'"}],"mark":{"type":"line","clip":true,"strokeWidth":1,"strokeDash":[5,3]},"encoding":{"x":{"field":"hi","type":"quantitative","scale":{"domain":[-100,100],"nice":false,"zero":false},"axis":{"values":[-100,-75,-50,-25,0,25,50,75,100],"labelExpr":"datum.value%50==0?datum.label:''","title":null}}}}
      ]}
    ]},
    {"spacing":59,"bounds":"flush","hconcat":[
     {"width":148,"height":180,"title":"March 2014","data":{"name":"b4"},
      "encoding":{"y":{"field":"p","type":"quantitative","scale":{"type":"log","domain":[0.0001,10],"reverse":true},"axis":{"values":[0.0001,0.001,0.01,0.1,1,10],"labelExpr":"datum.value<0.0005?'10⁻⁴':datum.value<0.005?'10⁻³':datum.value<0.05?'10⁻²':datum.value<0.5?'10⁻¹':datum.value<5?'10⁰':'10¹'","title":null}},
       "x":{"field":"u","type":"quantitative","scale":{"domain":[-100,100],"nice":false,"zero":false},"axis":{"values":[-100,-75,-50,-25,0,25,50,75,100],"labelExpr":"datum.value%50==0?datum.label:''","title":null}},
       "color":{"field":"s","type":"nominal","scale":{"domain":["g","r","b","c"],"range":["#008000","#ff0000","#0000ff","#00ffff"]},"legend":null},
       "order":{"field":"p","type":"quantitative"}},
      "layer":[
       {"transform":[{"filter":"datum.s=='b'||datum.s=='c'"}],"mark":{"type":"line","clip":true,"strokeWidth":1.2}},
       {"transform":[{"filter":"datum.s=='g'||datum.s=='r'"}],"mark":{"type":"line","clip":true,"strokeWidth":1,"strokeDash":[5,3]}},
       {"transform":[{"filter":"datum.s=='g'||datum.s=='r'"}],"mark":{"type":"line","clip":true,"strokeWidth":1,"strokeDash":[5,3]},"encoding":{"x":{"field":"lo","type":"quantitative","scale":{"domain":[-100,100],"nice":false,"zero":false},"axis":{"values":[-100,-75,-50,-25,0,25,50,75,100],"labelExpr":"datum.value%50==0?datum.label:''","title":null}}}},
       {"transform":[{"filter":"datum.s=='g'||datum.s=='r'"}],"mark":{"type":"line","clip":true,"strokeWidth":1,"strokeDash":[5,3]},"encoding":{"x":{"field":"hi","type":"quantitative","scale":{"domain":[-100,100],"nice":false,"zero":false},"axis":{"values":[-100,-75,-50,-25,0,25,50,75,100],"labelExpr":"datum.value%50==0?datum.label:''","title":null}}}}
      ]},
     {"width":148,"height":180,"title":"April 2014","data":{"name":"b5"},
      "encoding":{"y":{"field":"p","type":"quantitative","scale":{"type":"log","domain":[0.0001,10],"reverse":true},"axis":{"values":[0.0001,0.001,0.01,0.1,1,10],"labelExpr":"datum.value<0.0005?'10⁻⁴':datum.value<0.005?'10⁻³':datum.value<0.05?'10⁻²':datum.value<0.5?'10⁻¹':datum.value<5?'10⁰':'10¹'","title":null}},
       "x":{"field":"u","type":"quantitative","scale":{"domain":[-100,100],"nice":false,"zero":false},"axis":{"values":[-100,-75,-50,-25,0,25,50,75,100],"labelExpr":"datum.value%50==0?datum.label:''","title":null}},
       "color":{"field":"s","type":"nominal","scale":{"domain":["g","r","b","c"],"range":["#008000","#ff0000","#0000ff","#00ffff"]},"legend":null},
       "order":{"field":"p","type":"quantitative"}},
      "layer":[
       {"transform":[{"filter":"datum.s=='b'||datum.s=='c'"}],"mark":{"type":"line","clip":true,"strokeWidth":1.2}},
       {"transform":[{"filter":"datum.s=='g'||datum.s=='r'"}],"mark":{"type":"line","clip":true,"strokeWidth":1,"strokeDash":[5,3]}},
       {"transform":[{"filter":"datum.s=='g'||datum.s=='r'"}],"mark":{"type":"line","clip":true,"strokeWidth":1,"strokeDash":[5,3]},"encoding":{"x":{"field":"lo","type":"quantitative","scale":{"domain":[-100,100],"nice":false,"zero":false},"axis":{"values":[-100,-75,-50,-25,0,25,50,75,100],"labelExpr":"datum.value%50==0?datum.label:''","title":null}}}},
       {"transform":[{"filter":"datum.s=='g'||datum.s=='r'"}],"mark":{"type":"line","clip":true,"strokeWidth":1,"strokeDash":[5,3]},"encoding":{"x":{"field":"hi","type":"quantitative","scale":{"domain":[-100,100],"nice":false,"zero":false},"axis":{"values":[-100,-75,-50,-25,0,25,50,75,100],"labelExpr":"datum.value%50==0?datum.label:''","title":null}}}}
      ]},
     {"width":148,"height":180,"title":"May 2014","data":{"name":"b6"},
      "encoding":{"y":{"field":"p","type":"quantitative","scale":{"type":"log","domain":[0.0001,10],"reverse":true},"axis":{"values":[0.0001,0.001,0.01,0.1,1,10],"labelExpr":"datum.value<0.0005?'10⁻⁴':datum.value<0.005?'10⁻³':datum.value<0.05?'10⁻²':datum.value<0.5?'10⁻¹':datum.value<5?'10⁰':'10¹'","title":null}},
       "x":{"field":"u","type":"quantitative","scale":{"domain":[-100,100],"nice":false,"zero":false},"axis":{"values":[-100,-75,-50,-25,0,25,50,75,100],"labelExpr":"datum.value%50==0?datum.label:''","title":null}},
       "color":{"field":"s","type":"nominal","scale":{"domain":["g","r","b","c"],"range":["#008000","#ff0000","#0000ff","#00ffff"]},"legend":null},
       "order":{"field":"p","type":"quantitative"}},
      "layer":[
       {"transform":[{"filter":"datum.s=='b'||datum.s=='c'"}],"mark":{"type":"line","clip":true,"strokeWidth":1.2}},
       {"transform":[{"filter":"datum.s=='g'||datum.s=='r'"}],"mark":{"type":"line","clip":true,"strokeWidth":1,"strokeDash":[5,3]}},
       {"transform":[{"filter":"datum.s=='g'||datum.s=='r'"}],"mark":{"type":"line","clip":true,"strokeWidth":1,"strokeDash":[5,3]},"encoding":{"x":{"field":"lo","type":"quantitative","scale":{"domain":[-100,100],"nice":false,"zero":false},"axis":{"values":[-100,-75,-50,-25,0,25,50,75,100],"labelExpr":"datum.value%50==0?datum.label:''","title":null}}}},
       {"transform":[{"filter":"datum.s=='g'||datum.s=='r'"}],"mark":{"type":"line","clip":true,"strokeWidth":1,"strokeDash":[5,3]},"encoding":{"x":{"field":"hi","type":"quantitative","scale":{"domain":[-100,100],"nice":false,"zero":false},"axis":{"values":[-100,-75,-50,-25,0,25,50,75,100],"labelExpr":"datum.value%50==0?datum.label:''","title":null}}}}
      ]}
    ]}
   ]
  }]
 }]
}]}
],
"spacing":26
}
